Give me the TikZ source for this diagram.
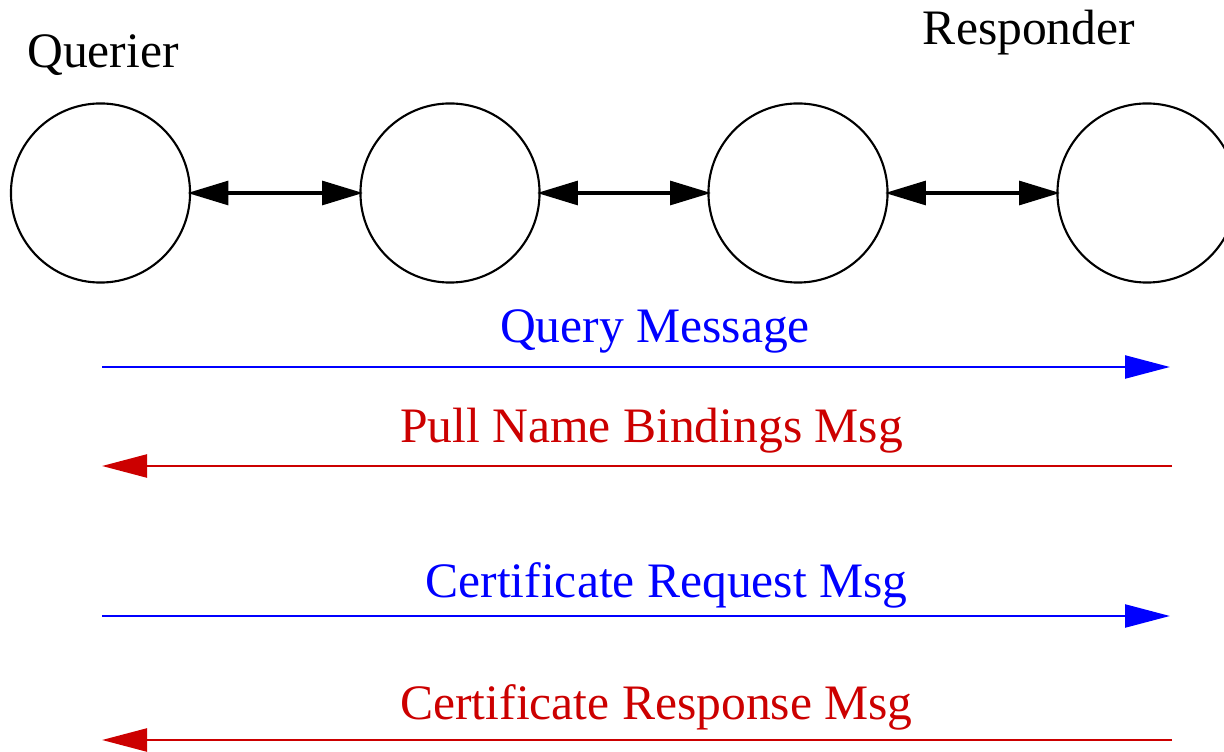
\documentclass[tikz,border=0pt]{standalone}
\usepackage{fontspec}
\setmainfont{Liberation Serif}
\usetikzlibrary{arrows.meta}
\definecolor{msgblue}{RGB}{0,0,255}
\definecolor{msgred}{RGB}{204,0,0}
\begin{document}
\begin{tikzpicture}[x=0.01cm,y=-0.01cm,
  peer/.style={draw, circle, line width=0.6pt, minimum size=1.79cm, inner sep=0pt},
  link/.style={line width=0.9pt, shorten <=-1pt, shorten >=-1pt, {Triangle[length=11.6pt,width=6.8pt]}-{Triangle[length=11.6pt,width=6.8pt]}},
  msg/.style={line width=0.8pt, -{Triangle[length=12.8pt,width=6.5pt]}},
  lbl/.style={font=\fontsize{14.1}{17}\selectfont, anchor=base, inner sep=0pt}]
\useasboundingbox (0,0) rectangle (1224,752);
\node[peer] (c1) at (100.5,193) {};
\node[peer] (c2) at (450,193) {};
\node[peer] (c3) at (798,193) {};
\node[peer] (c4) at (1147,193) {};
\draw[link] (c1) -- (c2);
\draw[link] (c2) -- (c3);
\draw[link] (c3) -- (c4);
\node[lbl] (querier) at (103,68) {Querier};
\node[lbl] (responder) at (1029,45) {Responder};
\coordinate (qa) at (102,367); \coordinate (qb) at (1170,367);
\coordinate (pa) at (1172,466); \coordinate (pb) at (102,466);
\coordinate (ra) at (102,616); \coordinate (rb) at (1170,616);
\coordinate (sa) at (1172,740); \coordinate (sb) at (102,740);
\draw[msg, msgblue] (qa) -- (qb);
\draw[msg, msgred] (pa) -- (pb);
\draw[msg, msgblue] (ra) -- (rb);
\draw[msg, msgred] (sa) -- (sb);
\node[lbl, text=msgblue] (ql) at (655,343) {Query Message};
\node[lbl, text=msgred] (pl) at (651.5,443) {Pull Name Bindings Msg};
\node[lbl, text=msgblue] (rl) at (666.5,597) {Certificate Request Msg};
\node[lbl, text=msgred] (sl) at (656.5,719) {Certificate Response Msg};
\end{tikzpicture}
\end{document}
